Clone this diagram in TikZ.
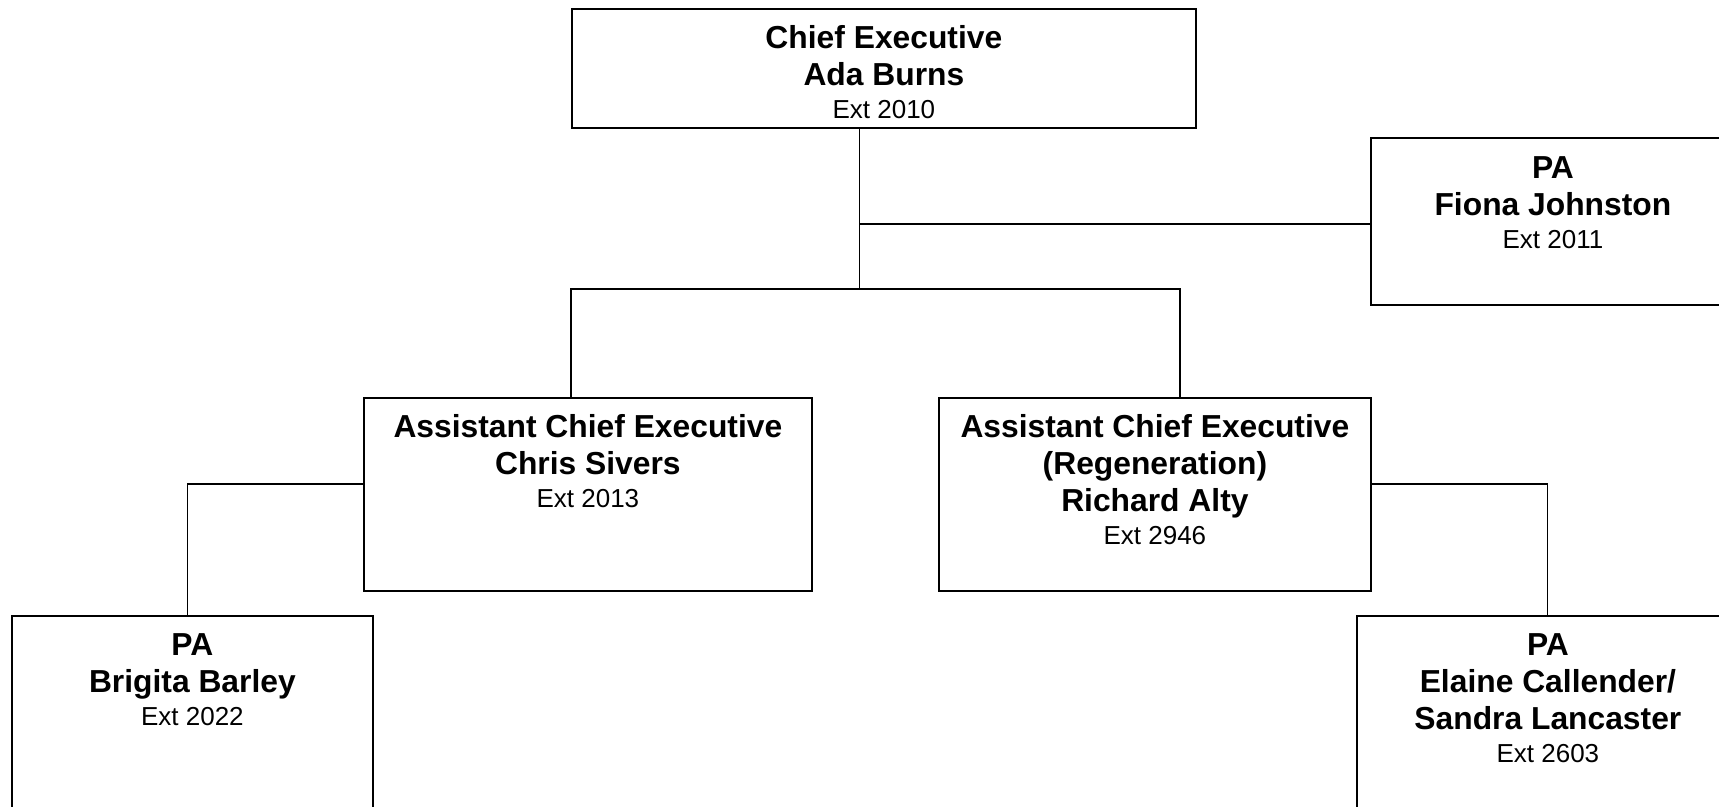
\documentclass[tikz,border=0pt]{standalone}
\usepackage{fontspec}
\setmainfont{Liberation Sans}
\begin{document}
\begin{tikzpicture}[x=1pt,y=-1pt,
  box/.style={draw=black, line width=1.8pt, rectangle, anchor=north west, inner sep=0pt, fill=white},
  conn/.style={draw=black, line width=1.8pt},
  lbl/.style={anchor=base, inner sep=0pt, align=center, font=\fontsize{31.8}{37}\selectfont}]
\clip (0,0) rectangle (1719,806);
\fill[white] (0,0) rectangle (1719,806);
% boxes
\node[box, minimum width=624pt, minimum height=119pt] (ceo) at (571,8) {};
\node[box, minimum width=364pt, minimum height=167pt] (fiona) at (1370,137) {};
\node[box, minimum width=448pt, minimum height=193pt] (chris) at (363,397) {};
\node[box, minimum width=432pt, minimum height=193pt] (richard) at (938,397) {};
\node[box, minimum width=361pt, minimum height=200pt] (brigita) at (11,615) {};
\node[box, minimum width=382pt, minimum height=200pt] (elaine) at (1356,615) {};
% texts
\node[lbl] (ceo-t) at ([yshift=-40pt]ceo.north) {\begin{tabular}[t]{@{}c@{}}\bfseries Chief Executive\\ \bfseries Ada Burns\\[-4pt] {\fontsize{26}{30}\selectfont Ext 2010}\end{tabular}};
\node[lbl] (fiona-t) at ([yshift=-41pt]fiona.north) {\begin{tabular}[t]{@{}c@{}}\bfseries PA\\ \bfseries Fiona Johnston\\[-4pt] {\fontsize{26}{30}\selectfont Ext 2011}\end{tabular}};
\node[lbl] (chris-t) at ([yshift=-40pt]chris.north) {\begin{tabular}[t]{@{}c@{}}\bfseries Assistant Chief Executive\\ \bfseries Chris Sivers\\[-4pt] {\fontsize{26}{30}\selectfont Ext 2013}\end{tabular}};
\node[lbl] (richard-t) at ([yshift=-40pt]richard.north) {\begin{tabular}[t]{@{}c@{}}\bfseries Assistant Chief Executive\\ \bfseries (Regeneration)\\ \bfseries Richard Alty\\[-4pt] {\fontsize{26}{30}\selectfont Ext 2946}\end{tabular}};
\node[lbl] (brigita-t) at ([yshift=-40pt]brigita.north) {\begin{tabular}[t]{@{}c@{}}\bfseries PA\\ \bfseries Brigita Barley\\[-4pt] {\fontsize{26}{30}\selectfont Ext 2022}\end{tabular}};
\node[lbl] (elaine-t) at ([yshift=-40pt]elaine.north) {\begin{tabular}[t]{@{}c@{}}\bfseries PA\\ \bfseries Elaine Callender/\\ \bfseries Sandra Lancaster\\[-4pt] {\fontsize{26}{30}\selectfont Ext 2603}\end{tabular}};
% connectors
\coordinate (hub) at (859.5,289);
\coordinate (pa) at (859.5,224);
\coordinate (cL) at (571,289);
\coordinate (cR) at (1180,289);
\coordinate (bL) at (187.5,484);
\coordinate (eR) at (1547.5,484);
\draw[conn] (ceo.south -| hub) -- (hub);
\draw[conn] (fiona.west |- pa) -- (pa);
\draw[conn] (chris.north -| cL) -- (cL) -- (cR) -- (richard.north -| cR);
\draw[conn] (chris.west |- bL) -- (bL) -- (brigita.north -| bL);
\draw[conn] (richard.east |- eR) -- (eR) -- (elaine.north -| eR);
\end{tikzpicture}
\end{document}
